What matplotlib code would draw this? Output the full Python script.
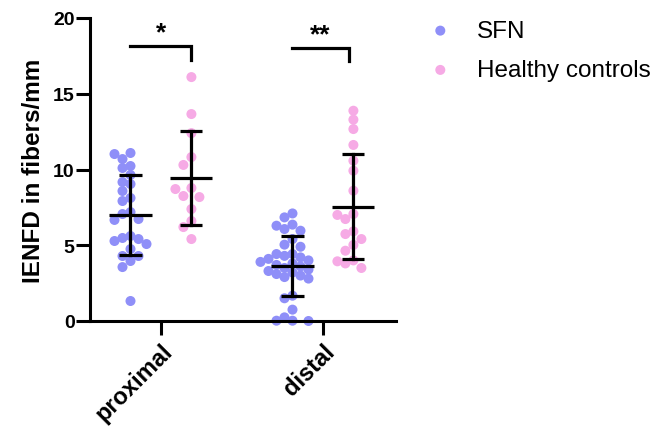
import numpy as np
import matplotlib
matplotlib.use("Agg")
import matplotlib.pyplot as plt

plt.rcParams['font.family'] = ['Liberation Sans', 'DejaVu Sans']

categories = ["proximal", "distal"]
series_names = ["SFN", "Healthy controls"]

sfn_proximal = [11.09, 11.02, 10.69, 10.23, 10.1, 9.64, 9.17, 9.04, 8.58, 8.12, 7.92,
                7.19, 7.06, 6.73, 6.67, 5.61, 5.48, 5.41, 5.28, 5.08, 4.75, 4.29, 4.29,
                3.96, 3.56, 1.32]
hc_proximal = [16.1, 13.66, 12.4, 10.82, 10.3, 8.78, 8.71, 8.25, 8.18, 7.39, 6.6, 6.2, 5.41]
sfn_distal = [7.1, 6.84, 6.36, 6.29, 6.07, 5.96, 5.41, 5.04, 4.9, 4.42, 4.42, 4.3, 4.2,
              4.1, 4.0, 3.9, 3.8, 3.7, 3.6, 3.5, 3.4, 3.3, 3.2, 3.1, 3.0, 2.9, 2.8,
              1.67, 1.5, 0.75, 0.24, 0.02, 0.02, 0.0]
hc_distal = [13.88, 13.29, 12.67, 11.62, 10.58, 9.92, 8.6, 7.06, 7.0, 6.73, 5.92, 5.74,
             5.41, 5.02, 4.64, 4.0, 3.94, 3.8, 3.5]
significance = ["*", "**"]

yticks = [0, 5, 10, 15, 20]

col_sfn = "#8F8FF8"
col_hc = "#F6AAE5"

W, H, DPI = 6.53, 4.31, 100
fig = plt.figure(figsize=(W, H), dpi=DPI)
ax = fig.add_axes([90/653, 109/431, (396-90)/653, (322-19)/431])

xlim = (-0.438, 1.451)
ylim = (0, 20)
ax.set_xlim(*xlim)
ax.set_ylim(*ylim)

# pixel scale for swarm layout
px_per_x = (396 - 90) / (xlim[1] - xlim[0])
px_per_y = (322 - 19) / (ylim[1] - ylim[0])
diam_px = 8.2
step_px = 8.0

def swarm(values, center):
    order = np.argsort(values)[::-1]
    placed = []
    xs = np.zeros(len(values))
    for i in order:
        yv = values[i] * px_per_y
        cands = [0]
        for n in range(1, 12):
            cands += [-n, n]
        for c in cands:
            xo = c * step_px
            ok = True
            for (px, py) in placed:
                if (px - xo) ** 2 + (py - yv) ** 2 < diam_px ** 2:
                    ok = False
                    break
            if ok:
                break
        placed.append((xo, yv))
        xs[i] = center + xo / px_per_x
    return xs

offset = 0.188
groups = [
    (sfn_proximal, 0 - offset, col_sfn),
    (hc_proximal, 0 + offset, col_hc),
    (sfn_distal, 1 - offset, col_sfn),
    (hc_distal, 1 + offset, col_hc),
]

msize = 52
for vals, pos, col in groups:
    v = np.array(vals)
    xs = swarm(v, pos)
    ax.scatter(xs, v, s=msize, color=col, edgecolors='none', zorder=2, clip_on=False)

# mean +/- SD
lw = 2.3
for vals, pos, col in groups:
    v = np.array(vals)
    m = v.mean()
    sd = v.std(ddof=1)
    ax.plot([pos - 0.13, pos + 0.13], [m, m], color='black', lw=lw, zorder=3, solid_capstyle='butt')
    ax.plot([pos, pos], [m - sd, m + sd], color='black', lw=lw, zorder=3)
    for yy in (m - sd, m + sd):
        ax.plot([pos - 0.068, pos + 0.068], [yy, yy], color='black', lw=lw, zorder=3, solid_capstyle='butt')

# significance brackets
for i, txt in enumerate(significance):
    x0 = i - offset
    x1 = i + offset - (0.03 if i == 1 else 0)
    ytop = 18.15 if i == 0 else 18.05
    ax.plot([x0, x1, x1], [ytop, ytop, ytop - 0.9], color='black', lw=lw,
            clip_on=False, zorder=3, solid_joinstyle='miter')
    ax.text((x0 + x1) / 2, ytop + 0.1, txt, ha='center', va='bottom',
            fontsize=19, fontweight='bold')

# axes styling
for s in ['top', 'right']:
    ax.spines[s].set_visible(False)
for s in ['left', 'bottom']:
    ax.spines[s].set_linewidth(2.2)
ax.set_yticks(yticks)
ax.set_yticklabels([str(t) for t in yticks], fontsize=14, fontweight='bold')
ax.set_xticks([0, 1])
ax.set_xticklabels(categories, fontsize=17, fontweight='bold', rotation=45,
                   ha='right', rotation_mode='anchor')
ax.tick_params(axis='y', length=10, width=2.2, pad=1)
ax.tick_params(axis='x', length=10, width=2.2, pad=3)
ax.set_ylabel("IENFD in fibers/mm", fontsize=17.5, fontweight='bold', labelpad=6)

# legend
h1 = ax.scatter([], [], s=msize, color=col_sfn, edgecolors='none', label=series_names[0])
h2 = ax.scatter([], [], s=msize, color=col_hc, edgecolors='none', label=series_names[1])
fig.legend(handles=[h1, h2], loc='upper left', bbox_to_anchor=(416/653, 1 - 21/431),
           frameon=False, fontsize=17.5, handlelength=2.0, handletextpad=0.5,
           labelspacing=0.71, borderpad=0, borderaxespad=0, scatterpoints=1)

fig.savefig("out.png", dpi=DPI)
